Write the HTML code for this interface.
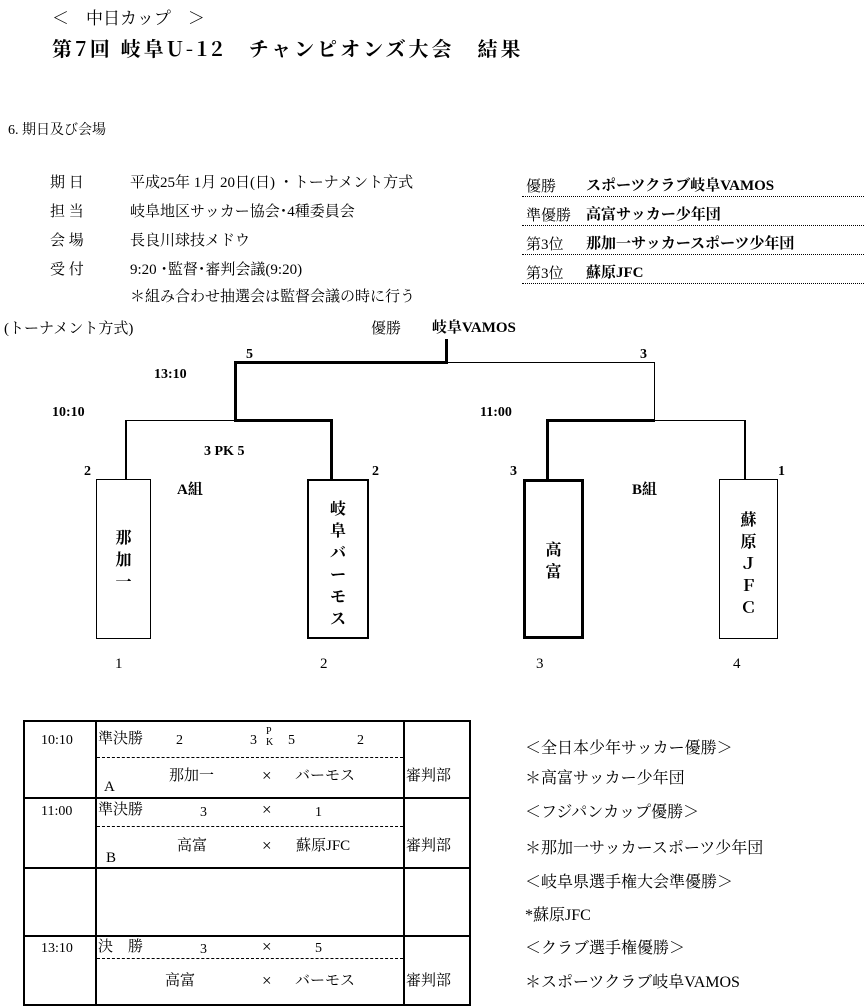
<!DOCTYPE html>
<html><head><meta charset="utf-8"><style>
body{margin:0;width:864px;height:1006px;background:#fff;position:relative;overflow:hidden;font-family:"Liberation Serif","Noto Serif CJK SC","Noto Sans CJK JP",serif;color:#000}
.t{position:absolute;white-space:nowrap;font-size:15px;line-height:17px}
.b{font-weight:bold}
.l{position:absolute;background:#000}
.box{position:absolute;border:1px solid #000;box-sizing:border-box}
.v{position:absolute;font-size:16px;font-weight:bold;line-height:22px;text-align:center;width:100%}
.dl{position:absolute;border-top:1px dashed #000}
.ul{position:absolute;border-top:1px dotted #000;left:522px;width:342px}
</style></head><body>
<div class="t" style="left:52px;top:9px;font-size:17px;line-height:20px">＜　中日カップ　＞</div>
<div class="t b" style="left:52px;top:36px;font-size:20px;line-height:24px;font-family:'Noto Serif CJK SC',serif;letter-spacing:3px">第7回 岐阜U-12　チャンピオンズ大会　結果</div>
<div class="t" style="left:8px;top:122px;font-size:14px">6. 期日及び会場</div>
<div class="t" style="left:50px;top:175px">期 日</div><div class="t" style="left:130px;top:175px">平成25年 1月 20日(日) ・トーナメント方式</div>
<div class="t" style="left:50px;top:204px">担 当</div><div class="t" style="left:130px;top:204px">岐阜地区サッカー協会･4種委員会</div>
<div class="t" style="left:50px;top:233px">会 場</div><div class="t" style="left:130px;top:233px">長良川球技メドウ</div>
<div class="t" style="left:50px;top:262px">受 付</div><div class="t" style="left:130px;top:262px">9:20 ･監督･審判会議(9:20)</div>
<div class="t" style="left:130px;top:289px">＊組み合わせ抽選会は監督会議の時に行う</div>
<div class="t" style="left:526px;top:179px">優勝</div><div class="t b" style="left:586px;top:178px">スポーツクラブ岐阜VAMOS</div><div class="ul" style="top:196px"></div>
<div class="t" style="left:526px;top:208px">準優勝</div><div class="t b" style="left:586px;top:207px">高富サッカー少年団</div><div class="ul" style="top:225px"></div>
<div class="t" style="left:526px;top:237px">第3位</div><div class="t b" style="left:586px;top:236px">那加一サッカースポーツ少年団</div><div class="ul" style="top:254px"></div>
<div class="t" style="left:526px;top:266px">第3位</div><div class="t b" style="left:586px;top:265px">蘇原JFC</div><div class="ul" style="top:283px"></div>
<div class="t" style="left:4px;top:321px">(トーナメント方式)</div>
<div class="t" style="left:371px;top:321px">優勝</div><div class="t b" style="left:432px;top:320px">岐阜VAMOS</div>
<!-- bracket -->
<div class="l" style="left:445px;top:339px;width:3px;height:24px"></div>
<div class="l" style="left:234px;top:361px;width:214px;height:3px"></div>
<div class="l" style="left:446px;top:362px;width:209px;height:1px"></div>
<div class="l" style="left:234px;top:361px;width:3px;height:61px"></div>
<div class="l" style="left:654px;top:362px;width:1px;height:59px"></div>
<div class="l" style="left:126px;top:420px;width:110px;height:1px"></div>
<div class="l" style="left:234px;top:419px;width:99px;height:3px"></div>
<div class="l" style="left:125px;top:420px;width:2px;height:60px"></div>
<div class="l" style="left:330px;top:419px;width:3px;height:61px"></div>
<div class="l" style="left:546px;top:419px;width:109px;height:3px"></div>
<div class="l" style="left:654px;top:420px;width:92px;height:1px"></div>
<div class="l" style="left:546px;top:419px;width:3px;height:61px"></div>
<div class="l" style="left:744px;top:420px;width:2px;height:60px"></div>
<div class="t b" style="left:246px;top:346px;font-size:14px">5</div>
<div class="t b" style="left:640px;top:346px;font-size:14px">3</div>
<div class="t b" style="left:154px;top:366px;font-size:14px">13:10</div>
<div class="t b" style="left:52px;top:404px;font-size:14px">10:10</div>
<div class="t b" style="left:480px;top:404px;font-size:14px">11:00</div>
<div class="t b" style="left:204px;top:443px;font-size:14px">3 PK 5</div>
<div class="t b" style="left:84px;top:463px;font-size:14px">2</div>
<div class="t b" style="left:372px;top:463px;font-size:14px">2</div>
<div class="t b" style="left:510px;top:463px;font-size:14px">3</div>
<div class="t b" style="left:778px;top:463px;font-size:14px">1</div>
<div class="t b" style="left:177px;top:482px">A組</div>
<div class="t b" style="left:632px;top:482px">B組</div>
<div class="box" style="left:96px;top:479px;width:55px;height:160px"><div class="v" style="top:48px">那<br>加<br>一</div></div>
<div class="box" style="left:307px;top:479px;width:62px;height:160px;border-width:2px"><div class="v" style="top:18px">岐<br>阜<br>バ<br>ー<br>モ<br>ス</div></div>
<div class="box" style="left:523px;top:479px;width:61px;height:160px;border-width:3px"><div class="v" style="top:58px">高<br>富</div></div>
<div class="box" style="left:719px;top:479px;width:59px;height:160px"><div class="v" style="top:30px">蘇<br>原<br>Ｊ<br>Ｆ<br>Ｃ</div></div>
<div class="t" style="left:115px;top:656px">1</div>
<div class="t" style="left:320px;top:656px">2</div>
<div class="t" style="left:536px;top:656px">3</div>
<div class="t" style="left:733px;top:656px">4</div>
<!-- table -->
<div class="box" style="left:23px;top:720px;width:448px;height:286px;border-width:2px"></div>
<div class="l" style="left:95px;top:720px;width:2px;height:286px"></div>
<div class="l" style="left:403px;top:720px;width:2px;height:286px"></div>
<div class="l" style="left:23px;top:797px;width:448px;height:2px"></div>
<div class="l" style="left:23px;top:867px;width:448px;height:2px"></div>
<div class="l" style="left:23px;top:935px;width:448px;height:2px"></div>
<div class="dl" style="left:97px;top:757px;width:306px"></div>
<div class="dl" style="left:97px;top:826px;width:306px"></div>
<div class="dl" style="left:97px;top:958px;width:306px"></div>
<div class="t" style="left:41px;top:732px;font-size:14px">10:10</div>
<div class="t" style="left:41px;top:803px;font-size:14px">11:00</div>
<div class="t" style="left:41px;top:940px;font-size:14px">13:10</div>
<div class="t" style="left:98px;top:731px">準決勝</div>
<div class="t" style="left:176px;top:732px;font-size:14px">2</div>
<div class="t" style="left:250px;top:732px;font-size:14px">3</div>
<div class="t" style="left:266px;top:726px;font-size:10px;line-height:11px">P<br>K</div>
<div class="t" style="left:288px;top:732px;font-size:14px">5</div>
<div class="t" style="left:357px;top:732px;font-size:14px">2</div>
<div class="t" style="left:104px;top:779px">A</div>
<div class="t" style="left:169px;top:768px">那加一</div><div class="t" style="left:262px;top:767px;font-size:17px">×</div><div class="t" style="left:295px;top:768px">バーモス</div>
<div class="t" style="left:406px;top:768px">審判部</div>
<div class="t" style="left:98px;top:802px">準決勝</div>
<div class="t" style="left:200px;top:804px;font-size:14px">3</div><div class="t" style="left:262px;top:801px;font-size:17px">×</div><div class="t" style="left:315px;top:804px;font-size:14px">1</div>
<div class="t" style="left:106px;top:850px">B</div>
<div class="t" style="left:177px;top:838px">高富</div><div class="t" style="left:262px;top:837px;font-size:17px">×</div><div class="t" style="left:296px;top:838px">蘇原JFC</div>
<div class="t" style="left:406px;top:838px">審判部</div>
<div class="t" style="left:98px;top:939px">決　勝</div>
<div class="t" style="left:200px;top:941px;font-size:14px">3</div><div class="t" style="left:262px;top:938px;font-size:17px">×</div><div class="t" style="left:315px;top:940px;font-size:14px">5</div>
<div class="t" style="left:165px;top:973px">高富</div><div class="t" style="left:262px;top:972px;font-size:17px">×</div><div class="t" style="left:295px;top:973px">バーモス</div>
<div class="t" style="left:406px;top:973px">審判部</div>
<!-- right notes -->
<div class="t" style="left:525px;top:740px;font-size:16px">＜全日本少年サッカー優勝＞</div>
<div class="t" style="left:525px;top:770px;font-size:16px">＊高富サッカー少年団</div>
<div class="t" style="left:525px;top:804px;font-size:16px">＜フジパンカップ優勝＞</div>
<div class="t" style="left:525px;top:840px;font-size:16px">＊那加一サッカースポーツ少年団</div>
<div class="t" style="left:525px;top:874px;font-size:16px">＜岐阜県選手権大会準優勝＞</div>
<div class="t" style="left:525px;top:907px;font-size:16px">*蘇原JFC</div>
<div class="t" style="left:525px;top:940px;font-size:16px">＜クラブ選手権優勝＞</div>
<div class="t" style="left:525px;top:974px;font-size:16px">＊スポーツクラブ岐阜VAMOS</div>
</body></html>
